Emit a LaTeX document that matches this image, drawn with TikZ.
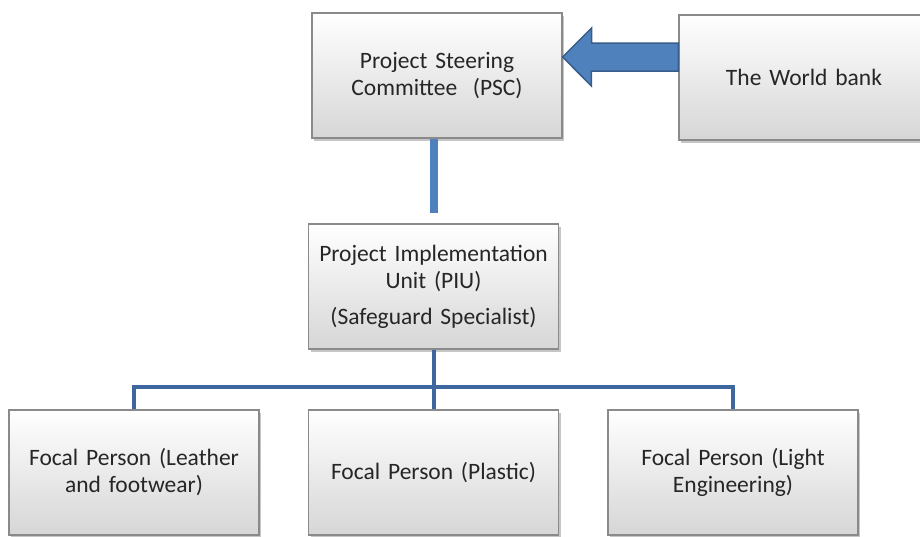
\documentclass[tikz,border=0pt]{standalone}
\usepackage{fontspec}
\setmainfont{Carlito}
\usetikzlibrary{shadows,positioning}
\definecolor{boxedge}{HTML}{8A8A8A}
\definecolor{boxlow}{HTML}{D6D6D6}
\definecolor{txtgrey}{HTML}{262626}
\definecolor{lightlink}{HTML}{4F81BD}
\definecolor{darklink}{HTML}{3D679E}
\definecolor{arrowedge}{HTML}{385D8A}
\tikzset{
  orgbox/.style={draw=boxedge, line width=1.3pt, top color=white, bottom color=boxlow,
    minimum width=250pt, minimum height=125pt, inner sep=0pt, text width=240pt, align=center,
    text=txtgrey, font=\fontsize{23.5}{27}\selectfont,
    drop shadow={shadow xshift=2pt, shadow yshift=-2.5pt, opacity=0.45}},
  psclink/.style={lightlink, line width=8pt},
  treelink/.style={darklink, line width=4pt},
  blockarrow/.style={fill=lightlink, draw=arrowedge, line width=1.5pt, line join=miter}
}

\begin{document}
\begin{tikzpicture}[x=1pt,y=-1pt]
\useasboundingbox (0,0) rectangle (920,536);
% top row
\node[orgbox] (psc) at (437,75.5) {Project Steering\\Committee~ (PSC)};
\node[orgbox] (wb) at (804,77.5) {The World bank};
% middle
\node[orgbox] (piu) at (433.5,286.5) {Project Implementation\\Unit (PIU)\\[9pt](Safeguard Specialist)};
% focal persons
\node[orgbox] (fpleather) at (134,472.5) {Focal Person (Leather\\and footwear)};
\node[orgbox] (fpplastic) at (433.5,472.5) {Focal Person (Plastic)};
\node[orgbox] (fplight) at (733,472.5) {Focal Person (Light\\Engineering)};

\filldraw[blockarrow] ([yshift=18.5pt]psc.east) -- ++(29,-29) -- ++(0,15)
  -- ([yshift=34.5pt]wb.west) -- ([yshift=6.5pt]wb.west) -- ++(-87,0) -- ++(0,15) -- cycle;

\draw[psclink] (psc.south -| piu.north) -- ++(0,74) coordinate (pscend);

\draw[treelink] (piu.south) -- ++(0,37) coordinate (bus) -| (fpleather.north);
\draw[treelink] (bus) -| (fplight.north);
\draw[treelink] (bus) -- (fpplastic.north);
\end{tikzpicture}
\end{document}
